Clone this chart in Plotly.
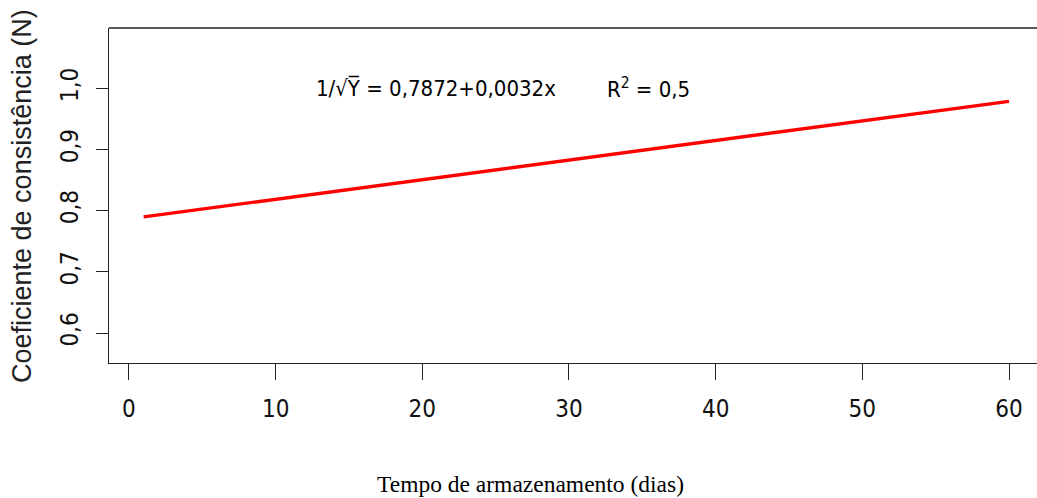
import plotly.graph_objects as go

# Data
days = [1, 10, 20, 30, 40, 50, 60]
coef = [0.790, 0.819, 0.851, 0.883, 0.915, 0.947, 0.979]
x_ticks = [0, 10, 20, 30, 40, 50, 60]
y_ticks = [0.6, 0.7, 0.8, 0.9, 1.0]
y_tick_text = ["0,6", "0,7", "0,8", "0,9", "1,0"]

W, H = 1037, 498
L, T, B = 109, 28, 135
pw, ph = W - L, H - T - B

def px(x):
    return (x - L) / pw

def py(y):
    return (H - B - y) / ph

narrow = "Liberation Sans Narrow, Arial Narrow, DejaVu Sans Condensed, Liberation Sans, sans-serif"

fig = go.Figure()
fig.add_trace(go.Scatter(x=days, y=coef, mode="lines",
                         line=dict(color="#ff0000", width=3.4), showlegend=False))

fig.update_layout(
    width=W, height=H,
    margin=dict(l=L, r=0, t=T, b=B, pad=0),
    paper_bgcolor="white", plot_bgcolor="white",
    xaxis=dict(range=[-1.36, (W - 129) / 14.667], tickvals=x_ticks,
               ticktext=[str(v) for v in x_ticks],
               showgrid=False, zeroline=False, showline=True, linecolor="#222",
               linewidth=1.3, mirror=False, ticks="outside", ticklen=16, tickwidth=1.3,
               tickcolor="#222", tickfont=dict(family=narrow, size=24, color="#111"),
               ticklabelstandoff=8),
    yaxis=dict(range=[0.551, 1.099], tickvals=y_ticks, ticktext=y_tick_text,
               showgrid=False, zeroline=False, showline=True, linecolor="#222",
               linewidth=1.3, mirror=False, ticks="outside", ticklen=12, tickwidth=1.3,
               tickcolor="#222", tickangle=-90,
               tickfont=dict(family=narrow, size=24, color="#111"),
               ticklabelstandoff=8),
)

# top border of the box
fig.add_shape(type="line", xref="paper", yref="paper", x0=0, x1=1.01, y0=1, y1=1,
              line=dict(color="#222", width=1.3))

fig.add_annotation(text="Coeficiente de consistência (N)", xref="paper", yref="paper",
                   x=px(22), y=py(196), xanchor="center", yanchor="middle",
                   textangle=-90, showarrow=False,
                   font=dict(family="Liberation Sans, Arial, sans-serif", size=27, color="#222"))
fig.add_annotation(text="Tempo de armazenamento (dias)", xref="paper", yref="paper",
                   x=px(530), y=py(484), xanchor="center", yanchor="middle",
                   showarrow=False,
                   font=dict(family="Liberation Serif, Times New Roman, serif", size=23.5, color="#000"))
fig.add_annotation(text="1/√Y̅ = 0,7872+0,0032x", xref="paper", yref="paper",
                   x=px(314), y=py(88), xanchor="left", yanchor="middle",
                   showarrow=False,
                   font=dict(family=narrow, size=22, color="#000"))
fig.add_annotation(text="R<sup>2</sup> = 0,5", xref="paper", yref="paper",
                   x=px(605), y=py(88), xanchor="left", yanchor="middle",
                   showarrow=False,
                   font=dict(family=narrow, size=22, color="#000"))

fig.write_html("out.html")
